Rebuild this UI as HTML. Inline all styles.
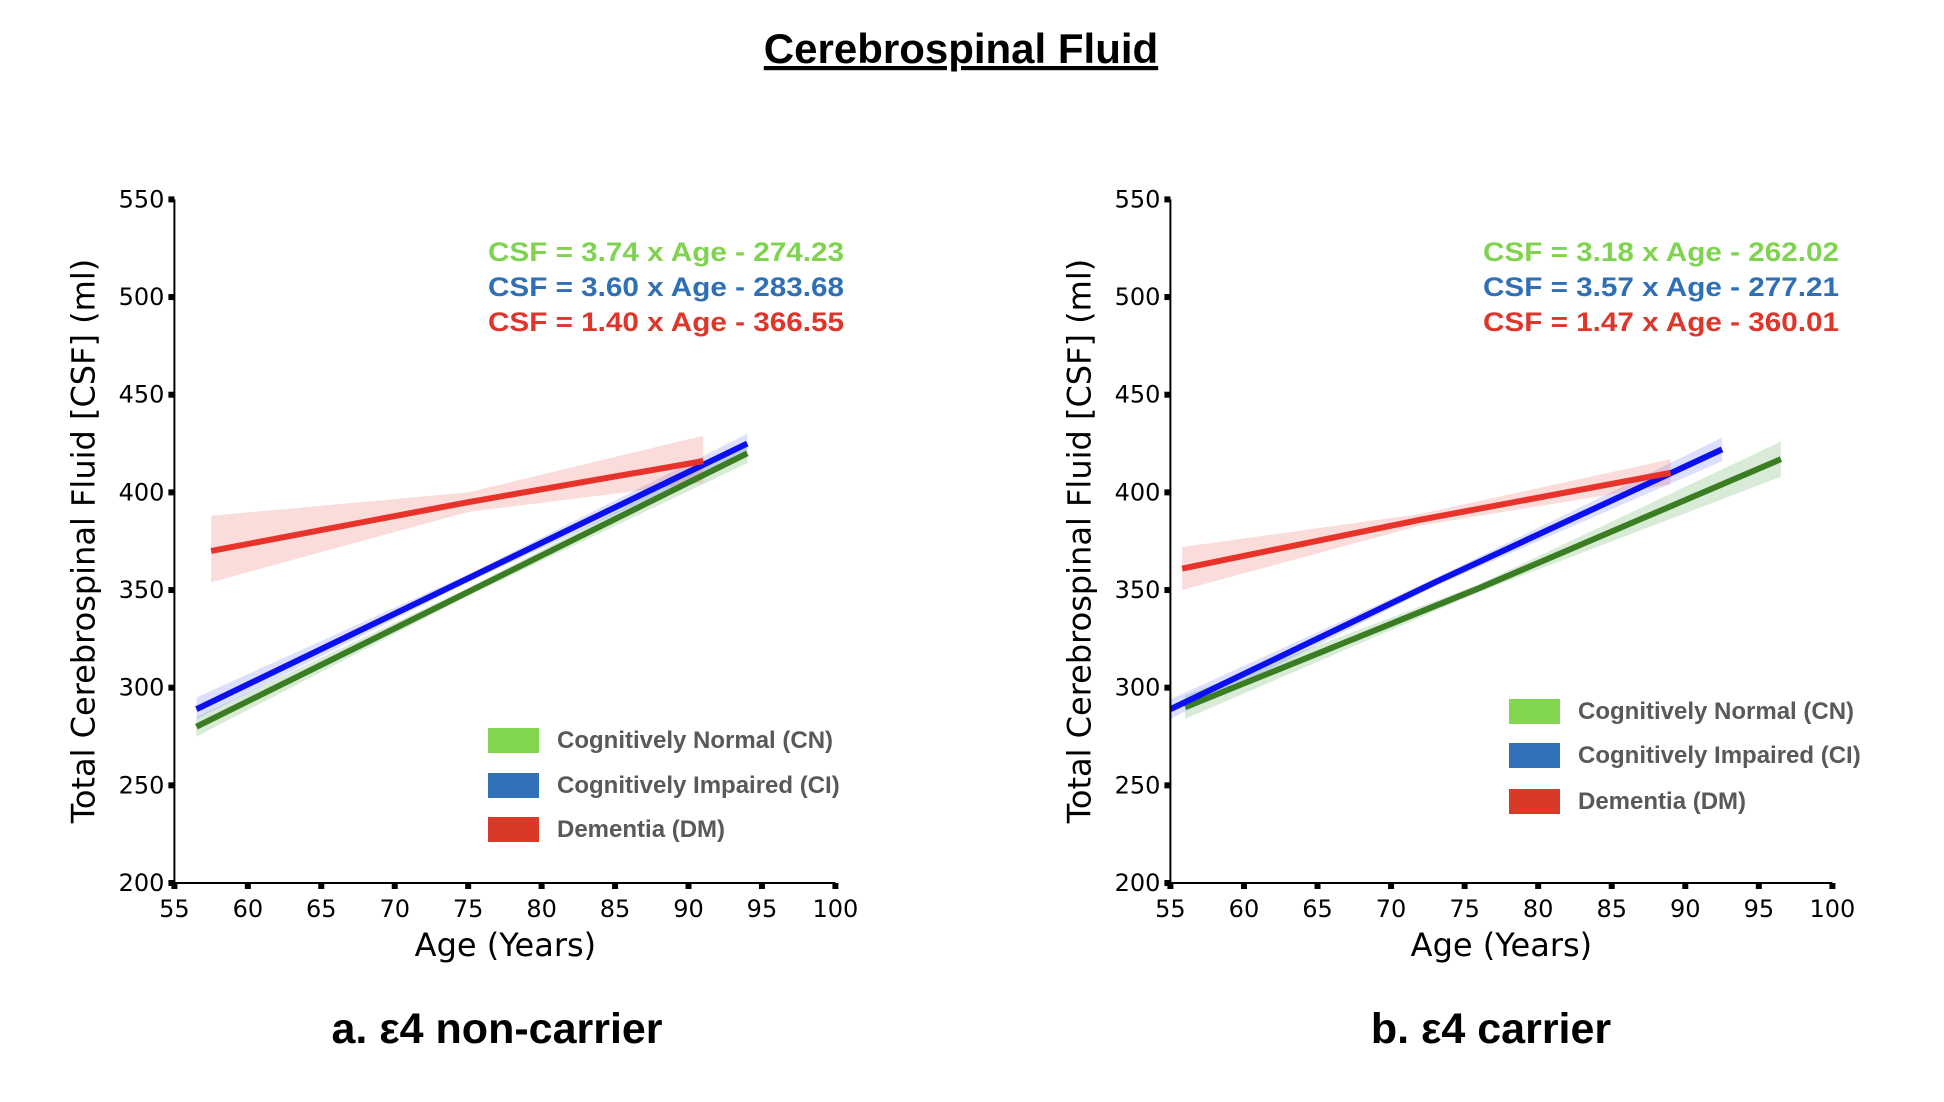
<!DOCTYPE html>
<html><head><meta charset="utf-8"><style>
body{margin:0;background:#fff;}
svg{display:block;font-family:"Liberation Sans",sans-serif;}
</style></head><body>
<svg id="fig" width="1944" height="1102" viewBox="0 0 1944 1102">
<text x="961" y="63" text-anchor="middle" font-size="42" font-weight="bold" text-decoration="underline">Cerebrospinal Fluid</text>
</svg>
<script>
const xTicks=[55,60,65,70,75,80,85,90,95,100];
const yTicks=[200,250,300,350,400,450,500,550];
const seriesNames=["Cognitively Normal (CN)","Cognitively Impaired (CI)","Dementia (DM)"];
const seriesKeys=["cn","ci","dm"];
// panel a
const aAgesCN=[56.5,75,94], aFitCN=[280,349,420], aLowCN=[275,347,415], aUpCN=[285,351,425];
const aAgesCI=[56.5,75,94], aFitCI=[289,356,425], aLowCI=[284,354,420], aUpCI=[295,358,430];
const aAgesDM=[57.5,75,91], aFitDM=[370,395,416], aLowDM=[354,390,405], aUpDM=[388,400,429];
const aEquations=["CSF = 3.74 x Age  - 274.23","CSF = 3.60 x Age  - 283.68","CSF = 1.40 x Age - 366.55"];
// panel b
const bAgesCN=[56,76,96.5], bFitCN=[290,351,417], bLowCN=[284,349,408], bUpCN=[296,353,426];
const bAgesCI=[55,73,92.5], bFitCI=[289,354,422], bLowCI=[284,352,416], bUpCI=[294,356,428];
const bAgesDM=[55.8,72,89], bFitDM=[361,386,410], bLowDM=[350,383,404], bUpDM=[372,389,417];
const bEquations=["CSF = 3.18 x Age  - 262.02","CSF = 3.57 x Age  - 277.21","CSF = 1.47 x Age - 360.01"];

const NS="http://www.w3.org/2000/svg";
const svg=document.getElementById('fig');
const lineCol={cn:"#3a7d22",ci:"#0a10f0",dm:"#e8332a"};
const bandCol={cn:"#3a9d32",ci:"#5060ff",dm:"#e8534a"};
const legCol={cn:"#82d650",ci:"#3071b8",dm:"#d93a28"};
const eqCol={cn:"#7fd34e",ci:"#2f6fb6",dm:"#e0352a"};
function mk(tag,attrs,parent){const e=document.createElementNS(NS,tag);for(const k in attrs)e.setAttribute(k,attrs[k]);(parent||svg).appendChild(e);return e;}
const DJ='"DejaVu Sans",sans-serif';

function panel(id,left,width,title,series,equations,eqCx,legX,legY,subCx){
  const g=mk('g',{});
  
  
  const x0=left,x1=left+width,yTop=199.4,yBot=883;
  const sx=v=>x0+(v-55)/(100-55)*(x1-x0);
  const sy=v=>yBot-(v-200)/(550-200)*(yBot-yTop);
  series.forEach((s,i)=>{
    const k=seriesKeys[i];
    let pts=s.ages.map((a,j)=>sx(a)+','+sy(s.up[j]));
    pts=pts.concat(s.ages.map((a,j)=>sx(a)+','+sy(s.low[j])).reverse());
    const band=mk('polygon',{points:pts.join(' '),fill:bandCol[k],'fill-opacity':0.2},g);
    
    
  });
  series.forEach((s,i)=>{
    const k=seriesKeys[i];
    const pl=mk('polyline',{points:s.ages.map((a,j)=>sx(a)+','+sy(s.fit[j])).join(' '),fill:'none',stroke:lineCol[k],'stroke-width':6},g);
    
    
  });
  const ax=mk('path',{d:`M${x0},${yTop} V${yBot} H${x1}`,fill:'none',stroke:'#000','stroke-width':2},g);
  
  
  yTicks.forEach(v=>{
    const t=mk('rect',{x:x0-6,y:sy(v)-3,width:6,height:6,fill:'#000'},g);
    
    
    const l=mk('text',{x:x0-10,y:sy(v)+8,'text-anchor':'end','font-size':24,'font-family':DJ,fill:'#000'},g);
    l.textContent=v;
    
    
  });
  xTicks.forEach(v=>{
    const t=mk('rect',{x:sx(v)-3,y:yBot,width:6,height:6,fill:'#000'},g);
    
    
    const l=mk('text',{x:sx(v),y:yBot+34,'text-anchor':'middle','font-size':24,'font-family':DJ,fill:'#000'},g);
    l.textContent=v;
    
    
  });
  const yl=mk('text',{x:0,y:0,'text-anchor':'middle','font-size':32,'font-family':DJ,transform:`translate(${x0-80},541) rotate(-90)`},g);
  yl.textContent='Total Cerebrospinal Fluid [CSF] (ml)';
  
  
  const xl=mk('text',{x:x0+331,y:956,'text-anchor':'middle','font-size':32,'font-family':DJ},g);
  xl.textContent='Age (Years)';
  
  
  equations.forEach((e,i)=>{
    const t=mk('text',{x:eqCx,y:261+i*35,'text-anchor':'middle','font-size':27,'font-weight':'bold',textLength:356,lengthAdjust:'spacingAndGlyphs',fill:eqCol[seriesKeys[i]]},g);
    t.textContent=e;
    
    
  });
  seriesNames.forEach((n,i)=>{
    const k=seriesKeys[i];
    const sw=mk('rect',{x:legX,y:legY[i]-12,width:51,height:25,fill:legCol[k]},g);
    
    
    const t=mk('text',{x:legX+69,y:legY[i]+8,'font-size':24,'font-weight':'bold',fill:'#595959'},g);
    t.textContent=n;
    
    
  });
  const st=mk('text',{x:subCx,y:1043,'text-anchor':'middle','font-size':43,'font-weight':'bold'},g);
  st.textContent=title;
  
  
}
panel('a',174.4,661,'a. ε4 non-carrier',[
 {ages:aAgesCN,fit:aFitCN,low:aLowCN,up:aUpCN},
 {ages:aAgesCI,fit:aFitCI,low:aLowCI,up:aUpCI},
 {ages:aAgesDM,fit:aFitDM,low:aLowDM,up:aUpDM}],aEquations,666,488,[740,785,829],497);
panel('b',1170.4,662,'b. ε4 carrier',[
 {ages:bAgesCN,fit:bFitCN,low:bLowCN,up:bUpCN},
 {ages:bAgesCI,fit:bFitCI,low:bLowCI,up:bUpCI},
 {ages:bAgesDM,fit:bFitDM,low:bLowDM,up:bUpDM}],bEquations,1661,1509,[711,755,801],1491);
</script>
</body></html>
